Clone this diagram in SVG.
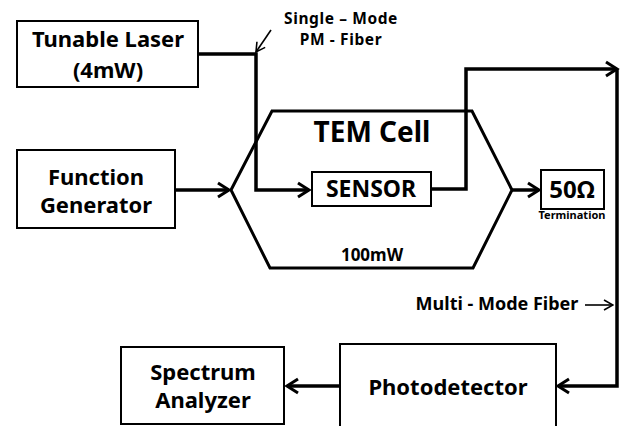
<svg xmlns="http://www.w3.org/2000/svg" width="623" height="426" viewBox="0 0 623 426">
<defs>
<marker id="ch" markerUnits="userSpaceOnUse" markerWidth="16" markerHeight="18" refX="13" refY="8" orient="auto" viewBox="0 0 16 16">
<path d="M2,1 L13,8 L2,15" fill="none" stroke="#000" stroke-width="3"/>
</marker>
<marker id="th" markerUnits="userSpaceOnUse" markerWidth="12" markerHeight="12" refX="11" refY="6" orient="auto" viewBox="0 0 12 12">
<path d="M2,1 L11,6 L2,11" fill="none" stroke="#000" stroke-width="1.6"/>
</marker>
</defs>
<style>
text{font-family:"Noto Sans","Open Sans","Liberation Sans",sans-serif;font-weight:bold;fill:#000;text-anchor:middle}
.box{fill:#fff;stroke:#000;stroke-width:2}
.c{fill:none;stroke:#000;stroke-width:3.5}
.big{font-size:22px}
.lbl{font-size:15.5px;letter-spacing:0.6px}
</style>
<rect width="623" height="426" fill="#fff"/>
<g id="tem-cell">
<path d="M231,190 L272,111 L472,111 L512,190 L473,268 L270,268 Z" fill="none" stroke="#000" stroke-width="3"/>
<text x="372" y="142" style="font-size:28px">TEM Cell</text>
<text x="372" y="261" style="font-size:17px">100mW</text>
</g>
<g id="connectors">
<polyline class="c" points="198,54 256,54 256,190 309,190" marker-end="url(#ch)"/>
<line class="c" x1="175" y1="190" x2="229" y2="190" marker-end="url(#ch)"/>
<polyline class="c" points="431,189 466,189 466,69 617,69" marker-end="url(#ch)"/>
<line class="c" x1="512" y1="190" x2="539" y2="190" marker-end="url(#ch)"/>
<polyline class="c" points="617,69 617,386 558,386" marker-end="url(#ch)"/>
<line class="c" x1="340" y1="386" x2="287" y2="386" marker-end="url(#ch)"/>
<line x1="271" y1="30" x2="256" y2="52" stroke="#000" stroke-width="1.6" marker-end="url(#th)"/>
<line x1="585" y1="305" x2="613" y2="305" stroke="#000" stroke-width="1.6" marker-end="url(#th)"/>
</g>
<g id="fiber-labels">
<text class="lbl" x="341" y="24">Single – Mode</text>
<text class="lbl" x="341" y="45">PM - Fiber</text>
<text x="497" y="310" style="font-size:18px">Multi - Mode Fiber</text>
</g>
<g id="tunable-laser">
<rect class="box" x="17" y="21" width="181" height="66"/>
<text class="big" x="108" y="47">Tunable Laser</text>
<text class="big" x="108" y="78">(4mW)</text>
</g>
<g id="function-generator">
<rect class="box" x="17" y="150" width="158" height="78"/>
<text class="big" x="96" y="185">Function</text>
<text class="big" x="96" y="213">Generator</text>
</g>
<g id="sensor">
<rect class="box" x="312" y="172" width="119" height="34"/>
<text x="371" y="197" style="font-size:23px">SENSOR</text>
</g>
<g id="termination">
<rect class="box" x="541" y="170" width="63" height="39"/>
<text x="572" y="198" style="font-size:24px">50Ω</text>
<text x="572" y="219" style="font-size:11px">Termination</text>
</g>
<g id="photodetector">
<rect class="box" x="340" y="344" width="216" height="90"/>
<text class="big" x="448" y="395">Photodetector</text>
</g>
<g id="spectrum-analyzer">
<rect class="box" x="121" y="347" width="163" height="77"/>
<text class="big" x="203" y="380">Spectrum</text>
<text class="big" x="203" y="408">Analyzer</text>
</g>
</svg>
